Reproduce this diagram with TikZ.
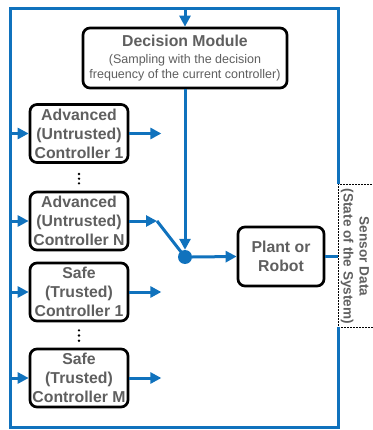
\documentclass[tikz,border=0pt]{standalone}
\usepackage{fontspec}
\setmainfont{Liberation Sans}
\usetikzlibrary{arrows.meta}
\definecolor{flowblue}{RGB}{16,114,189}
\definecolor{txtgray}{RGB}{95,95,95}
\begin{document}
\begin{tikzpicture}[x=1pt,y=-1pt,
  flow/.style={draw=flowblue,line width=3pt},
  arr/.style={flow,-{Triangle[length=11pt,width=11pt]}},
  box/.style={draw=black,line width=2.7pt,rounded corners=7pt,fill=white,
    text=txtgray,align=center,inner sep=0pt,font=\bfseries\fontsize{15.8}{19}\selectfont},
  ctrl/.style={box,minimum width=98pt,minimum height=58pt},
  vdot/.style={circle,fill=black,inner sep=0pt,minimum size=2.6pt}]
\useasboundingbox (0,0) rectangle (372,430);
% nodes
\node[box,minimum width=204pt,minimum height=60pt] (dec) at (185,58)
  {\raisebox{-2pt}{\parbox[c]{200pt}{\centering Decision Module\par\vspace{2.5pt}
   \mdseries\fontsize{12.5}{15}\selectfont (Sampling with the decision\\
   frequency of the current controller)\par}}};
\node[ctrl] (adv1) at (79,133.5) {Advanced\\(Untrusted)\\Controller 1};
\node[ctrl] (advN) at (79,221) {Advanced\\(Untrusted)\\Controller N};
\node[ctrl] (safe1) at (79,292) {Safe\\(Trusted)\\Controller 1};
\node[ctrl] (safeM) at (79,378) {Safe\\(Trusted)\\Controller M};
\node[box,minimum width=86pt,minimum height=59pt] (plant) at (281,256.5) {Plant or\\Robot};
\node[circle,fill=flowblue,inner sep=0pt,minimum size=14pt] (dot) at (185,257) {};
\node[rotate=-90,text=txtgray,align=center,inner sep=0pt,
  font=\bfseries\fontsize{13.6}{16}\selectfont] (sensor) at (355,256.5)
  {Sensor Data\\(State of the System)};
% dotted sensor box
\draw[black,line width=0.8pt,dash pattern=on 1.6pt off 1.4pt]
  (375,184) -- (338,184) -- (338,327) -- (375,327);
% dots
\node[vdot] (d1) at (79,174) {};
\node[vdot] (d2) at (79,178.7) {};
\node[vdot] (d3) at (79,183.4) {};
\node[vdot] (d4) at (79,330.3) {};
\node[vdot] (d5) at (79,335.5) {};
\node[vdot] (d6) at (79,340.7) {};
% loop coordinates
\coordinate (sTop) at (338,184);
\coordinate (sBot) at (338,327);
\coordinate (tr) at (338,9);
\coordinate (tl) at (10,9);
\coordinate (bl) at (10,427);
\coordinate (br) at (338,427);
\coordinate (tm) at (185,9);
\coordinate (sIn) at (338,256.5);
\coordinate (kink) at (157,221);
% feedback loop
\draw[flow] (sTop) -- (tr) -- (tl) -- (bl) -- (br) -- (sBot);
\draw[arr] (tm) -- (dec.north);
\draw[flow] (plant.east) -- (sIn);
% inputs
\draw[arr] (adv1.west -| tl) -- (adv1.west);
\draw[arr] (advN.west -| tl) -- (advN.west);
\draw[arr] (safe1.west -| tl) -- (safe1.west);
\draw[arr] (safeM.west -| tl) -- (safeM.west);
% outputs
\draw[arr] (adv1.east) -- ++(32,0);
\draw[arr] (safe1.east) -- ++(32,0);
\draw[arr] (safeM.east) -- ++(32,0);
\draw[arr] (advN.east) -- (kink);
\draw[flow] (kink) -- (dot.center);
\draw[arr] (dec.south) -- (dot.north);
\draw[arr] (dot.east) -- (plant.west);
\end{tikzpicture}
\end{document}
